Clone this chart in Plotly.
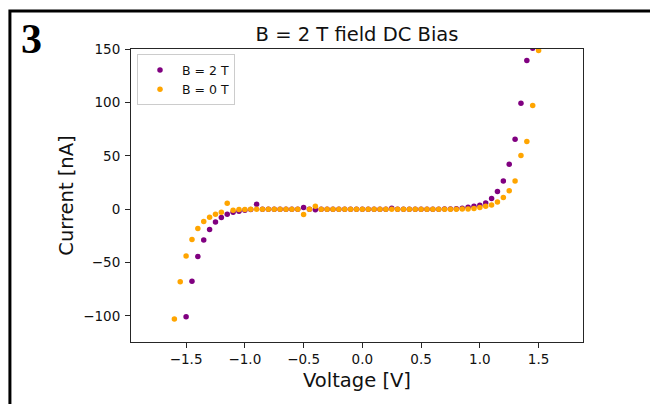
import plotly.graph_objects as go

# ---- data ----
v_2t = [-1.50, -1.45, -1.40, -1.35, -1.30, -1.25, -1.20, -1.15, -1.10, -1.05,
        -1.00, -0.95, -0.90, -0.85, -0.80, -0.75, -0.70, -0.65, -0.60, -0.55,
        -0.50, -0.45, -0.40, -0.35, -0.30, -0.25, -0.20, -0.15, -0.10, -0.05,
        0.00, 0.05, 0.10, 0.15, 0.20, 0.25, 0.30, 0.35, 0.40, 0.45,
        0.50, 0.55, 0.60, 0.65, 0.70, 0.75, 0.80, 0.85, 0.90, 0.95,
        1.00, 1.05, 1.10, 1.15, 1.20, 1.25, 1.30, 1.35, 1.40, 1.45]
i_2t = [-101.0, -67.5, -44.3, -29.0, -19.0, -11.9, -7.8, -4.7, -2.8, -1.9,
        -0.9, -0.3, 4.7, 0.0, 0.0, 0.0, 0.0, 0.0, 0.0, 0.0,
        1.6, 0.0, -0.5, 0.0, 0.0, 0.0, 0.0, 0.0, 0.0, 0.0,
        0.0, 0.0, 0.0, 0.0, 0.0, 0.8, 0.0, 0.0, 0.0, 0.0,
        0.0, 0.0, 0.0, 0.0, 0.1, 0.2, 0.5, 1.0, 1.9, 2.8,
        3.7, 5.9, 10.0, 16.6, 26.5, 42.2, 65.6, 99.3, 139.4, 151.0]

v_0t = [-1.60, -1.55, -1.50, -1.45, -1.40, -1.35, -1.30, -1.25, -1.20, -1.15,
        -1.10, -1.05, -1.00, -0.95, -0.90, -0.85, -0.80, -0.75, -0.70, -0.65,
        -0.60, -0.55, -0.50, -0.45, -0.40, -0.35, -0.30, -0.25, -0.20, -0.15,
        -0.10, -0.05, 0.00, 0.05, 0.10, 0.15, 0.20, 0.25, 0.30, 0.35,
        0.40, 0.45, 0.50, 0.55, 0.60, 0.65, 0.70, 0.75, 0.80, 0.85,
        0.90, 0.95, 1.00, 1.05, 1.10, 1.15, 1.20, 1.25, 1.30, 1.35,
        1.40, 1.45, 1.50]
i_0t = [-103.0, -68.0, -44.0, -28.5, -18.0, -11.5, -7.5, -4.7, -2.8, 5.6,
        -1.0, -0.4, -0.2, 0.0, 0.0, 0.0, 0.0, 0.0, 0.0, 0.0,
        0.0, 0.0, -5.0, 0.0, 2.8, 0.0, 0.0, 0.0, 0.0, 0.0,
        0.0, 0.0, 0.0, 0.0, 0.0, 0.0, 0.0, 0.0, 0.0, 0.0,
        0.0, 0.0, 0.0, 0.0, 0.0, 0.0, 0.0, 0.0, 0.0, 0.1,
        0.3, 0.7, 1.6, 2.8, 4.0, 6.8, 11.0, 17.2, 26.5, 50.3,
        63.4, 97.2, 149.0]

x_tick_vals = [-1.5, -1.0, -0.5, 0.0, 0.5, 1.0, 1.5]
x_tick_text = ["\u22121.5", "\u22121.0", "\u22120.5", "0.0", "0.5", "1.0", "1.5"]
y_tick_vals = [-100, -50, 0, 50, 100, 150]
y_tick_text = ["\u2212100", "\u221250", "0", "50", "100", "150"]

series_names = ["B = 2 T", "B = 0 T"]
series_colors = ["#800080", "#FFA500"]

# ---- layout geometry (pixels) ----
W, H = 650, 404
L, R, T, B = 131, 582.7, 48.7, 342
pw, ph = R - L, B - T

def px_x(p):
    return (p - L) / pw

def px_y(p):
    return (B - p) / ph

FONT = "DejaVu Sans"

fig = go.Figure()
fig.add_trace(go.Scatter(x=v_2t, y=i_2t, mode="markers", name=series_names[0],
                         marker=dict(color=series_colors[0], size=5.5, line=dict(width=0))))
fig.add_trace(go.Scatter(x=v_0t, y=i_0t, mode="markers", name=series_names[1],
                         marker=dict(color=series_colors[1], size=5.5, line=dict(width=0))))

axis_common = dict(showline=True, linecolor="#262626", linewidth=1, mirror=True,
                   ticks="outside", ticklen=5, tickwidth=1, tickcolor="#262626",
                   showgrid=False, zeroline=False,
                   tickfont=dict(family=FONT, size=13.5, color="#111111"))

fig.update_xaxes(range=[-1.969, 1.878], tickvals=x_tick_vals, ticktext=x_tick_text,
                 title=dict(text="Voltage [V]", font=dict(family=FONT, size=19.5, color="#111111"),
                            standoff=7),
                 **axis_common)
fig.update_yaxes(range=[-124.6, 150.3], tickvals=y_tick_vals, ticktext=y_tick_text,
                 ticklabelstandoff=2,
                 title=dict(text="Current [nA]", font=dict(family=FONT, size=19.5, color="#111111"),
                            standoff=4),
                 **axis_common)

fig.update_layout(
    width=W, height=H,
    margin=dict(l=L, r=W - R, t=T, b=H - B, autoexpand=False),
    plot_bgcolor="white", paper_bgcolor="white",
    title=dict(text="B = 2 T field DC Bias", x=px_x((L + R) / 2), xref="paper",
               xanchor="center", y=1 - 34 / H, yref="container", yanchor="middle",
               font=dict(family=FONT, size=19.5, color="#111111")),
    legend=dict(x=px_x(137), y=px_y(54), xanchor="left", yanchor="top",
                bgcolor="rgba(255,255,255,0.8)", bordercolor="#cccccc", borderwidth=1,
                font=dict(family=FONT, size=12.5, color="#111111"),
                itemwidth=34, tracegroupgap=0),
    showlegend=True,
    shapes=[dict(type="rect", xref="paper", yref="paper",
                 x0=px_x(10), x1=px_x(720), y0=px_y(470), y1=px_y(10.7),
                 line=dict(color="black", width=3), fillcolor="rgba(0,0,0,0)", layer="above")],
    annotations=[dict(text="<b>3</b>", xref="paper", yref="paper",
                      x=px_x(31.7), y=px_y(38.7), xanchor="center", yanchor="middle",
                      showarrow=False,
                      font=dict(family="Liberation Serif", size=42, color="black"))],
)

fig.write_html(
    "out.html",
    config={"displayModeBar": False},
    post_script="document.body.style.margin='0';document.body.style.overflow='hidden';",
)
